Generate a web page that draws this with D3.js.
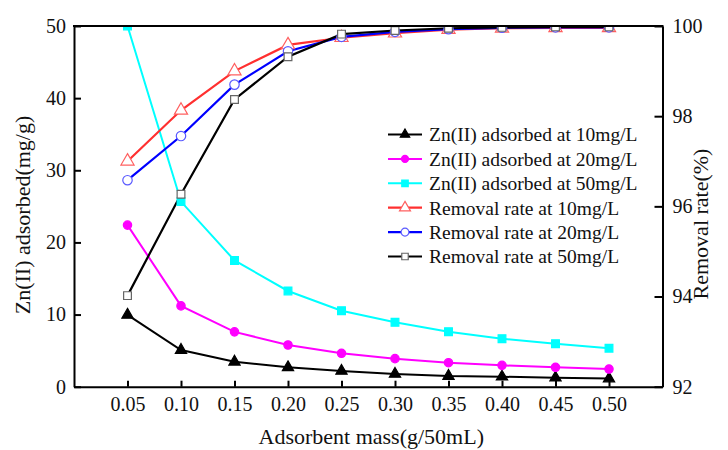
<!DOCTYPE html>
<html><head><meta charset="utf-8">
<script src="https://cdn.jsdelivr.net/npm/d3@7"></script>
<style>body{margin:0;background:#fff} svg text{font-family:"Liberation Serif","Times New Roman","DejaVu Serif",serif;}</style></head>
<body><svg id="c" width="728" height="450"></svg>
<script>
const mass = [0.05,0.10,0.15,0.20,0.25,0.30,0.35,0.40,0.45,0.50];
const ads10 = [9.95,5.08,3.45,2.68,2.18,1.76,1.48,1.38,1.25,1.12];
const ads20 = [22.4,11.2,7.6,5.78,4.63,3.89,3.33,2.96,2.69,2.45];
const ads50 = [50.0,25.66,17.5,13.27,10.54,8.93,7.63,6.66,5.96,5.33];
const rem10 = [97.0,98.13,99.0,99.58,99.74,99.84,99.92,99.95,99.96,99.96];
const rem20 = [96.58,97.56,98.70,99.44,99.76,99.87,99.93,99.96,99.97,99.97];
const rem50 = [94.02,96.27,98.37,99.32,99.82,99.90,99.95,99.97,99.98,99.98];
const seriesNames = ["Zn(II) adsorbed at 10mg/L","Zn(II) adsorbed at 20mg/L","Zn(II) adsorbed at 50mg/L",
  "Removal rate at 10mg/L","Removal rate at 20mg/L","Removal rate at 50mg/L"];
const xTicks = [0.05,0.10,0.15,0.20,0.25,0.30,0.35,0.40,0.45,0.50];
const yLeftTicks = [0,10,20,30,40,50];
const yRightTicks = [92,94,96,98,100];
const xTitle = "Adsorbent mass(g/50mL)";
const yLeftTitle = "Zn(II) adsorbed(mg/g)";
const yRightTitle = "Removal rate(%)";

const L = 74, R = 662.5, T = 26, B = 386.7;
const svg = d3.select("#c");
const x = d3.scaleLinear().domain([0,0.55]).range([L,R]);
const yL = d3.scaleLinear().domain([0,50]).range([B,T]);
const yR = d3.scaleLinear().domain([92,100]).range([B,T]);

svg.append("defs").append("clipPath").attr("id","clip")
  .append("rect").attr("x",L).attr("y",T).attr("width",R-L).attr("height",B-T);

const series = [
  {name:seriesNames[0], vals:ads10, y:yL, line:"#000", lw:2, shape:d3.symbolTriangle, size:55, fill:"#000", stroke:"#000"},
  {name:seriesNames[1], vals:ads20, y:yL, line:"#ff00ff", lw:2, shape:d3.symbolCircle, size:55, fill:"#ff00ff", stroke:"#ff00ff"},
  {name:seriesNames[2], vals:ads50, y:yL, line:"#00ffff", lw:2, shape:d3.symbolSquare, size:60, fill:"#00ffff", stroke:"#00ffff"},
  {name:seriesNames[3], vals:rem10, y:yR, line:"#ff3030", lw:2.2, shape:d3.symbolTriangle, size:75, fill:"#fff", stroke:"#ff6060"},
  {name:seriesNames[4], vals:rem20, y:yR, line:"#0000ff", lw:2.2, shape:d3.symbolCircle, size:70, fill:"#fff", stroke:"#5a5aff"},
  {name:seriesNames[5], vals:rem50, y:yR, line:"#000", lw:2.2, shape:d3.symbolSquare, size:60, fill:"#fff", stroke:"#666"}
];

const plot = svg.append("g").attr("clip-path","url(#clip)");
series.forEach(s=>{
  const pts = mass.map((m,i)=>[m,s.vals[i]]);
  plot.append("path").datum(pts)
    .attr("d", d3.line().x(d=>x(d[0])).y(d=>s.y(d[1])))
    .attr("fill","none").attr("stroke",s.line).attr("stroke-width",s.lw);
});
series.forEach(s=>{
  const pts = mass.map((m,i)=>[m,s.vals[i]]);
  plot.selectAll(null).data(pts).enter().append("path")
    .attr("transform",d=>`translate(${x(d[0])},${s.y(d[1])})`)
    .attr("d", d3.symbol().type(s.shape).size(s.size))
    .attr("fill",s.fill).attr("stroke",s.stroke).attr("stroke-width",1.2);
});

function styleAxis(g){
  g.attr("font-family",null);
  g.selectAll(".domain").attr("stroke","#000").attr("stroke-width",2);
  g.selectAll(".tick line").attr("stroke","#000").attr("stroke-width",2);
  g.selectAll("text").attr("font-size",20).attr("fill","#111");
}
svg.append("g").attr("transform",`translate(0,${B})`)
  .call(d3.axisBottom(x).tickValues(xTicks).tickFormat(d3.format(".2f")).tickSizeInner(-6).tickSizeOuter(0).tickPadding(10))
  .call(styleAxis);
svg.append("g").attr("transform",`translate(${L},0)`)
  .call(d3.axisLeft(yL).tickValues(yLeftTicks).tickFormat(d3.format("d")).tickSizeInner(-7).tickSizeOuter(0).tickPadding(8))
  .call(styleAxis);
svg.append("g").attr("transform",`translate(${R},0)`)
  .call(d3.axisRight(yR).tickValues(yRightTicks).tickFormat(d3.format("d")).tickSizeInner(-8).tickSizeOuter(0).tickPadding(10))
  .call(styleAxis);
svg.append("line").attr("x1",L-1).attr("x2",R+1).attr("y1",T).attr("y2",T)
  .attr("stroke","#000").attr("stroke-width",2);

svg.append("text").attr("x",(L+R)/2+3).attr("y",444).attr("text-anchor","middle")
  .attr("font-size",22).attr("fill","#111").text(xTitle);
svg.append("text").attr("transform","translate(30,215) rotate(-90)").attr("text-anchor","middle")
  .attr("font-size",22).attr("fill","#111").text(yLeftTitle);
svg.append("text").attr("transform","translate(708,224) rotate(-90)").attr("text-anchor","middle")
  .attr("font-size",22).attr("fill","#111").text(yRightTitle);

const lg = svg.append("g");
series.forEach((s,i)=>{
  const yy = 134.5 + i*24.4;
  lg.append("line").attr("x1",388).attr("x2",422).attr("y1",yy).attr("y2",yy)
    .attr("stroke",s.line).attr("stroke-width",s.lw);
  lg.append("path").attr("transform",`translate(405,${yy})`)
    .attr("d",d3.symbol().type(s.shape).size(s.size*0.7))
    .attr("fill",s.fill).attr("stroke",s.stroke).attr("stroke-width",1.2);
  lg.append("text").attr("x",429).attr("y",yy).attr("dy","0.35em")
    .attr("font-size",19.5).attr("fill","#111").text(s.name);
});
</script></body></html>
